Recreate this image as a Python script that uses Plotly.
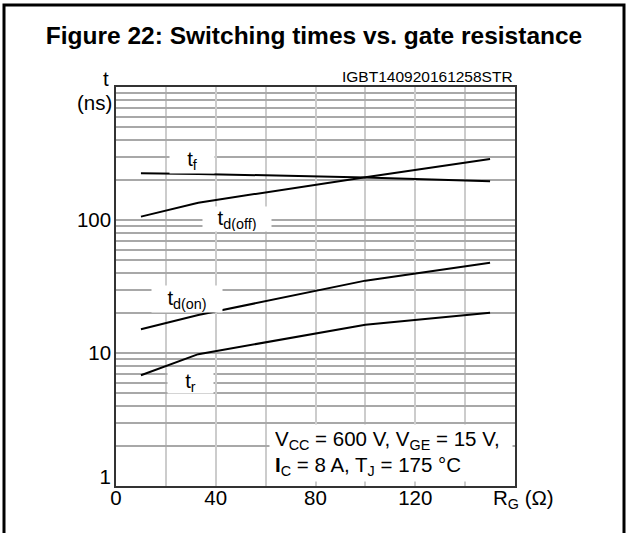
import plotly.graph_objects as go

# ---- data ----
rg = [10, 33, 100, 150]                 # gate resistance, ohm
t_f = [225, 222, 209, 196]              # ns
t_doff = [106, 135, 210, 288]           # ns
t_don = [15.1, 19.3, 35, 47.7]          # ns
t_r = [6.8, 9.8, 16.3, 20.1]            # ns

x_tickvals = [0, 40, 80, 120]
x_ticktext = ["0", "40", "80", "120"]
x_minor = [20, 60, 100, 140]
y_tickvals = [10, 100]
y_ticktext = ["10", "100"]
y_low_tick = [1]
y_low_text = ["1"]
y_minor = [m * 10 ** e for e in range(0, 3) for m in range(2, 10)]

FONT = "Liberation Sans, Arial, sans-serif"
FS = 20.5

fig = go.Figure()
for ys in (t_f, t_doff, t_don, t_r):
    fig.add_trace(go.Scatter(x=rg, y=ys, mode="lines", hoverinfo="skip",
                             line=dict(color="black", width=2), showlegend=False))
# invisible companion trace so the secondary (label-only) axis is drawn
fig.add_trace(go.Scatter(x=rg, y=t_r, mode="lines", yaxis="y2", hoverinfo="skip",
                         line=dict(color="rgba(0,0,0,0)", width=0), showlegend=False))

fig.update_layout(
    width=628, height=533,
    margin=dict(l=116, r=113, t=87, b=47),
    paper_bgcolor="white", plot_bgcolor="white",
    font=dict(family=FONT, size=FS, color="black"),
    title=dict(text="<b>Figure 22: Switching times vs. gate resistance</b>",
               x=0.5, xanchor="center", y=1 - 35 / 533, yanchor="middle",
               font=dict(size=24.5, family=FONT)),
    yaxis2=dict(type="log", range=[0, 3], overlaying="y", side="left",
                tickvals=y_low_tick, ticktext=y_low_text, ticklabelshift=-9,
                ticklabelstandoff=4, showgrid=False, showline=False,
                zeroline=False, ticks=""),
)
fig.update_xaxes(range=[0, 160], tickvals=x_tickvals, ticktext=x_ticktext,
                 showgrid=True, gridcolor="#cccccc", gridwidth=1.5,
                 minor=dict(tickvals=x_minor, showgrid=True, gridcolor="#cccccc", gridwidth=1.5, ticks=""),
                 zeroline=False, ticks="",
                 showline=True, linecolor="#333", linewidth=1.5, mirror=True,
                 ticklabelstandoff=-7)
fig.layout.yaxis.update(type="log", range=[0, 3], tickvals=y_tickvals, ticktext=y_ticktext,
                        showgrid=True, gridcolor="#a8a8a8", gridwidth=1.5,
                        minor=dict(tickvals=y_minor, showgrid=True, gridcolor="#a8a8a8",
                                   gridwidth=1.5, ticks=""),
                        zeroline=False, ticks="",
                        showline=True, linecolor="#333", linewidth=1.5, mirror=True,
                        ticklabelstandoff=-1)

# curve labels
labels = [
    ("t<sub>f</sub>", 30.5, 2.451, 44, 26),
    ("t<sub>d(off)</sub>", 48.5, 2.008, 68, 24),
    ("t<sub>d(on)</sub>", 28.5, 1.406, 70, 26),
    ("t<sub>r</sub>", 29.7, 0.782, 45, 22),
]
for txt, xv, yv, w, h in labels:
    fig.add_annotation(text=txt, x=xv, y=yv, xref="x", yref="y", showarrow=False,
                       xanchor="center", yanchor="middle",
                       bgcolor="white", width=w, height=h, borderpad=0,
                       font=dict(size=FS))

# conditions box
fig.add_annotation(
    text="V<sub>CC</sub> = 600 V, V<sub>GE</sub> = 15 V,<br><b>I</b><sub>C</sub> = 8 A, T<sub>J</sub> = 175 °C",
    x=(391 - 116) / 399, y=(486 - 453) / 399, xref="paper", yref="paper",
    xanchor="center", yanchor="middle",
    showarrow=False, bgcolor="white", width=232, height=46, borderpad=5,
    align="left", font=dict(size=FS))

# axis captions
fig.add_annotation(text="t", x=-0.012, y=1.0, yshift=-5, xref="paper", yref="paper",
                   xanchor="right", yanchor="bottom", showarrow=False, font=dict(size=FS))
fig.add_annotation(text="(ns)", x=-0.004, y=(486 - 102) / 399, xref="paper", yref="paper",
                   xanchor="right", yanchor="middle", showarrow=False, font=dict(size=FS))
fig.add_annotation(text="R<sub>G</sub> (Ω)", x=(491 - 116) / 399, y=0.006, xref="paper", yref="paper",
                   xanchor="left", yanchor="top", showarrow=False, font=dict(size=FS))
fig.add_annotation(text="IGBT140920161258STR", x=1.0, y=1.0, xref="paper", yref="paper",
                   xanchor="right", yanchor="bottom", showarrow=False, font=dict(size=15.5))

# outer frame
fig.add_shape(type="rect", xref="paper", yref="paper",
              x0=(4 - 116) / 399, x1=(624 - 116) / 399,
              y0=(486 - 545) / 399, y1=(486 - 5) / 399,
              line=dict(color="black", width=3), fillcolor="rgba(0,0,0,0)", layer="above")

fig.write_html("out.html", config={"displayModeBar": False},
               post_script="document.body.style.margin='0';document.body.style.padding='0';")
